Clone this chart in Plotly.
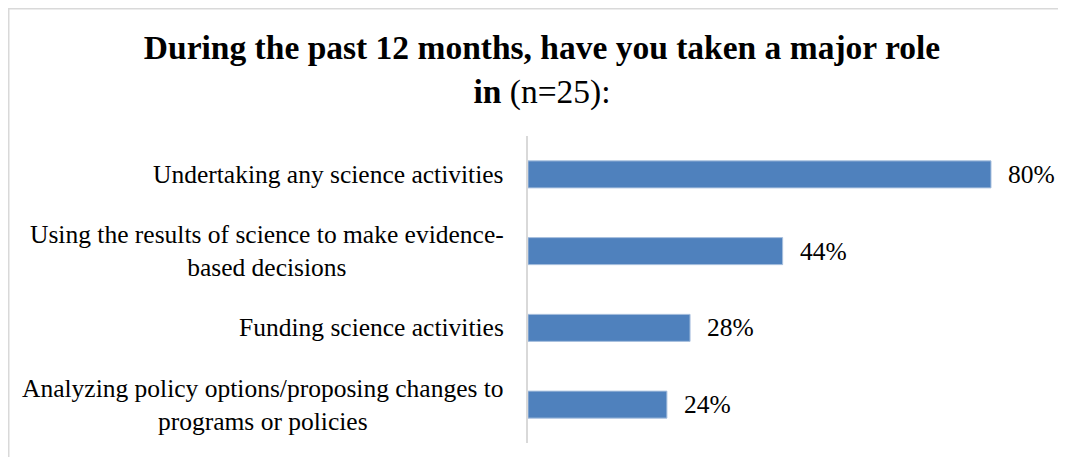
import plotly.graph_objects as go

# data
categories = [
    "Undertaking any science activities",
    "Using the results of science to make evidence-<br>based decisions",
    "Funding science activities",
    "Analyzing policy options/proposing changes to<br>programs or policies",
]
values = [80, 44, 28, 24]

title_main = "During the past 12 months, have you taken a major role"
title_tail = "in"
title_note = "(n=25):"

# the page body keeps an 8px margin, so the figure is laid out 8px in
OFF = 8
W, H = 1066 - 2 * OFF, 465 - 2 * OFF
L = 528 - OFF
T = 136 - OFF
plot_right = 1040 - OFF
plot_bottom = 443 - OFF
R = W - plot_right
B = H - plot_bottom
plot_w = W - L - R
plot_h = H - T - B
px_per_pct = 5.7875
font = "Liberation Serif"

fig = go.Figure()
fig.add_trace(go.Bar(
    x=values,
    y=categories,
    orientation="h",
    width=0.352,
    marker=dict(color="#4F81BD", line=dict(color="#A9C0DE", width=1)),
    hoverinfo="x+y",
    showlegend=False,
))

annotations = []
# category labels, right aligned to a common edge, lines centred
for c in categories:
    annotations.append(dict(
        xref="paper", yref="y", x=(506 - OFF - L) / plot_w, y=c,
        xanchor="right", yanchor="middle", align="center",
        text=c, showarrow=False,
        font=dict(family=font, size=25.5, color="#000000"),
    ))
# value labels
for c, v in zip(categories, values):
    annotations.append(dict(
        xref="x", yref="y", x=v, y=c, xanchor="left", yanchor="middle",
        xshift=15, text=f"{v}%", showarrow=False,
        font=dict(family=font, size=25.5, color="#000000"),
    ))

# outer chart border (only top and left are visible in the reference)
border = dict(
    type="rect", xref="paper", yref="paper",
    x0=(0.5 - L) / plot_w, x1=(W + 10 - L) / plot_w,
    y0=(plot_bottom - (H + 10)) / plot_h, y1=(plot_bottom - 0.5) / plot_h,
    line=dict(color="#D9D9D9", width=2), fillcolor="rgba(0,0,0,0)",
    layer="below",
)

fig.update_layout(
    width=W, height=H,
    margin=dict(l=L, r=R, t=T, b=B, pad=0),
    paper_bgcolor="#FFFFFF",
    plot_bgcolor="#FFFFFF",
    title=dict(
        text=f"<b>{title_main}</b><br><b>{title_tail}</b> {title_note}",
        x=(542 - OFF) / W, xanchor="center", xref="container",
        y=1 - (59 - OFF) / H, yanchor="top", yref="container",
        font=dict(family=font, size=33.5, color="#000000"),
    ),
    xaxis=dict(
        range=[0, plot_w / px_per_pct],
        showgrid=False, zeroline=False, showline=False,
        showticklabels=False, ticks="", fixedrange=True,
    ),
    yaxis=dict(
        range=[len(categories) - 0.5, -0.5],
        showgrid=False, zeroline=False,
        showline=True, linecolor="#D9D9D9", linewidth=2,
        showticklabels=False, ticks="", fixedrange=True,
    ),
    annotations=annotations,
    shapes=[border],
)

fig.write_html("out.html")
